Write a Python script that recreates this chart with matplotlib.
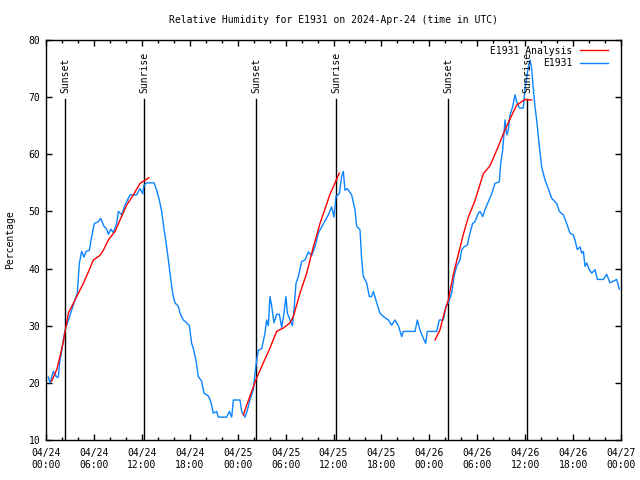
import numpy as np
import pandas as pd
import matplotlib
matplotlib.use('Agg')
import matplotlib.pyplot as plt
import matplotlib.dates as mdates

plt.rcParams['font.family'] = ['DejaVu Sans Mono']
FS = 7

start = pd.Timestamp('2024-04-24 00:00')
end = pd.Timestamp('2024-04-27 00:00')

# Observed relative humidity (hours after 2024-04-24 00:00 UTC, %)
obs_hours = [0.29, 0.50, 0.92, 1.34, 1.54, 1.75, 1.96, 2.17, 2.38, 2.80, 3.21, 3.63, 3.92, 4.17,
             4.47, 4.76, 5.01, 5.43, 5.72, 6.05, 6.55, 6.85, 7.26, 7.60, 7.81, 8.10, 8.43, 8.85,
             9.06, 9.48, 9.89, 10.52, 11.35, 11.77, 12.10, 12.27, 12.61, 13.52, 13.86, 14.19,
             14.48, 14.78, 15.11, 15.32, 15.53, 15.74, 15.94, 16.15, 16.57, 16.78, 17.20, 17.61,
             17.95, 18.24, 18.45, 18.78, 19.07, 19.49, 19.78, 20.33, 20.62, 20.95, 21.37, 21.58,
             22.62, 22.96, 23.25, 23.46, 24.29, 24.50, 24.92, 25.21, 25.54, 25.96, 26.17, 26.38,
             26.59, 27.01, 27.42, 27.63, 27.84, 28.05, 28.26, 28.55, 28.88, 29.22, 29.51, 29.80,
             30.05, 30.22, 30.55, 30.85, 31.05, 31.30, 31.60, 32.01, 32.43, 32.85, 33.27, 33.68,
             34.10, 34.52, 35.35, 35.77, 36.06, 36.31, 36.73, 37.02, 37.23, 37.44, 37.73, 38.27,
             38.69, 38.90, 39.32, 39.53, 39.74, 40.15, 40.49, 40.78, 40.99, 41.41, 41.82, 42.24,
             42.87, 43.28, 43.70, 44.12, 44.54, 44.74, 45.58, 46.21, 46.50, 46.83, 47.25, 47.54,
             47.75, 48.92, 49.25, 49.75, 50.09, 50.38, 50.80, 51.09, 51.42, 51.84, 52.05, 52.34,
             52.76, 53.09, 53.42, 53.72, 54.14, 54.35, 54.68, 54.97, 55.39, 55.81, 56.22, 56.77,
             56.93, 57.18, 57.48, 57.69, 57.89, 58.10, 58.43, 58.73, 58.94, 59.27, 59.77, 59.98,
             60.40, 60.61, 60.81, 61.02, 61.23, 61.44, 61.78, 62.07, 62.48, 62.90, 63.32, 63.94,
             64.28, 64.78, 65.20, 65.61, 66.03, 66.24, 66.53, 66.87, 67.08, 67.29, 67.49, 67.70,
             68.04, 68.33, 68.75, 69.04, 69.79, 70.21, 70.62, 71.04, 71.46, 71.79]
obs_rh = [21, 20, 22, 21, 21, 24, 25.5, 27.5, 29.2, 31, 32.7, 34.5, 35.7, 40.9,
          43, 42, 43, 43.2, 45.6, 47.9, 48.2, 48.8, 47.4, 46.9, 46, 46.9, 46.3, 47.9,
          50, 49.4, 51.1, 52.9, 52.9, 54, 53.1, 54.6, 55, 55, 53.7, 52,
          50, 46.9, 43.8, 41.5, 39.2, 36.9, 35.1, 34, 33.4, 32.2, 31, 30.5,
          30, 26.9, 26, 24, 21.1, 20.3, 18.2, 17.7, 16.8, 14.7, 15, 14,
          14, 15, 14, 17, 17, 15, 14, 15.2, 17, 18.8, 21.7, 24,
          25.7, 26, 28.7, 31, 30, 35.1, 33.4, 30.5, 32, 32, 29.7, 32.2,
          35.1, 32.2, 31, 30, 32.7, 37.4, 38.6, 41.2, 41.5, 42.9, 42.3, 43.8,
          46.2, 47.3, 49.4, 50.8, 49, 52.6, 53.1, 56.1, 57, 53.7, 54, 52.9,
          50.3, 47.4, 46.8, 41.5, 38.6, 37.5, 35.1, 35.1, 36, 34, 32.2, 31.6,
          31, 30.1, 31, 30, 28.1, 29, 29, 29, 31, 29.2, 27.8, 26.9,
          29, 29, 31, 31, 33.4, 34, 35.7, 38.6, 40.4, 41.5, 43.3, 43.8,
          44.1, 46.2, 47.9, 48.2, 49.7, 50, 49.1, 50.3, 51.7, 53.1, 54.9, 55.2,
          58.4, 60.7, 66, 63.4, 64.2, 66.9, 68.3, 70.4, 69.2, 68.1, 68.1, 71.5,
          75.3, 76.5, 75, 71.5, 68.3, 66, 61.3, 57.8, 55.5, 54, 52.3, 51.4,
          50, 49.4, 47.9, 46.2, 45.9, 45, 43.3, 43.8, 42.7, 43, 40.4, 41,
          39.8, 39.2, 39.8, 38.1, 38.1, 39, 37.5, 37.8, 38.1, 36.4]

# Analysis segments
ana1_hours = [0.71, 1.34, 1.75, 2.17, 2.50, 2.80, 3.84, 4.67, 5.30, 5.93, 6.76, 7.18, 7.81,
              8.64, 9.27, 10.10, 10.94, 11.77, 12.90]
ana1_rh = [20.3, 22.3, 24.6, 27.2, 29.8, 32.2, 35.1, 37.4, 39.4, 41.5, 42.3, 43.2, 45,
           46.5, 48.5, 51.1, 52.9, 54.9, 55.9]
ana2_hours = [24.71, 25.54, 26.30, 27.21, 28.05, 28.88, 29.72, 30.55, 30.97, 31.81, 32.64,
              33.48, 34.31, 35.56, 36.73]
ana2_rh = [14.4, 17.7, 20.6, 23.5, 26.1, 29, 29.6, 30.5, 31.6, 35.7, 39.2,
           43.8, 47.9, 53, 56.7]
ana3_hours = [48.71, 49.34, 49.96, 50.38, 51.01, 51.63, 52.26, 52.88, 53.72, 54.76, 55.60,
              56.43, 57.27, 58.10, 58.94, 59.98, 60.81]
ana3_rh = [27.5, 29.3, 32.7, 34.5, 39, 42.5, 46, 49, 51.9, 56.6, 58,
           60.7, 63.6, 66.2, 68.6, 69.6, 69.5]

sun_times = ['2024-04-24 02:23', '2024-04-24 12:16', '2024-04-25 02:18',
             '2024-04-25 12:18', '2024-04-26 02:20', '2024-04-26 12:14']
sun_labels = ['Sunset', 'Sunrise', 'Sunset', 'Sunrise', 'Sunset', 'Sunrise']

def to_time(hours):
    return start + pd.to_timedelta(np.asarray(hours, dtype=float), unit='h')

fig = plt.figure(figsize=(6.4, 4.8), dpi=100)
ax = fig.add_axes([46/640, 40/480, 575/640, 400/480])

red = '#ff0000'
blue = '#0a84ff'

# sunrise / sunset markers
for t, lab in zip(pd.to_datetime(sun_times), sun_labels):
    ax.plot([t, t], [10, 69.7], color='black', lw=1.0, zorder=1)
    ax.text(t, 70.7, lab, rotation=90, ha='center', va='bottom', fontsize=FS,
            color='black')

ax.plot(to_time(ana1_hours), ana1_rh, color=red, lw=1.0, label='E1931 Analysis', zorder=3)
ax.plot(to_time(ana2_hours), ana2_rh, color=red, lw=1.0, zorder=3)
ax.plot(to_time(ana3_hours), ana3_rh, color=red, lw=1.0, zorder=3)
ax.plot(to_time(obs_hours), obs_rh, color=blue, lw=1.0, label='E1931', zorder=2)

ax.set_xlim(start, end)
ax.set_ylim(10, 80)
ax.set_yticks(np.arange(10, 81, 10))
ax.xaxis.set_major_locator(mdates.HourLocator(byhour=[0, 6, 12, 18]))
ax.xaxis.set_minor_locator(mdates.HourLocator(byhour=range(0, 24, 2)))
ax.xaxis.set_major_formatter(mdates.DateFormatter('%m/%d\n%H:%M'))

ax.tick_params(axis='both', which='both', direction='in', top=True, right=True,
               labelsize=FS, width=1, color='black')
ax.tick_params(axis='both', which='major', length=4.5)
ax.tick_params(axis='x', which='minor', length=2.2)
ax.tick_params(axis='x', which='major', pad=6)
ax.tick_params(axis='y', which='major', pad=4)
for s in ax.spines.values():
    s.set_linewidth(1.0)
    s.set_color('black')

ax.set_ylabel('Percentage', fontsize=FS)
ax.yaxis.set_label_coords(-0.054, 0.5)
ax.set_title('Relative Humidity for E1931 on 2024-Apr-24 (time in UTC)', fontsize=FS, pad=12)

ax.legend(loc='upper right', bbox_to_anchor=(0.985, 0.995), frameon=False, fontsize=FS,
          markerfirst=False, handlelength=2.9, handletextpad=0.8, labelspacing=0.25,
          borderaxespad=0.0)

fig.savefig('out.png', dpi=100)
